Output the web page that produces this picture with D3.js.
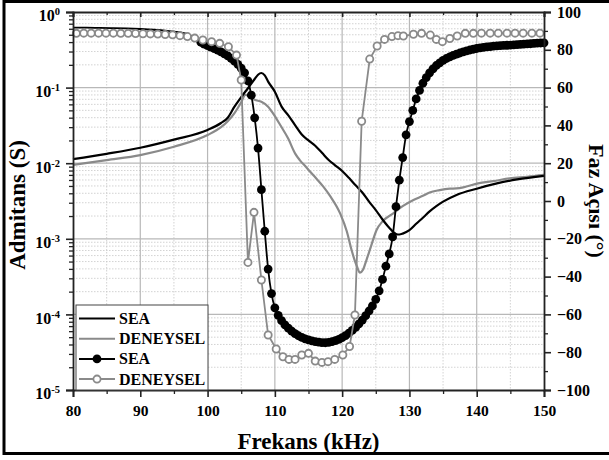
<!DOCTYPE html>
<html>
<head>
<meta charset="utf-8">
<title>Admitans - Faz</title>
<script src="https://cdn.jsdelivr.net/npm/d3@7"></script>
<style>
  body { margin: 0; background: #fff; }
  svg text { font-family: "Liberation Serif", "Times New Roman", serif; font-weight: bold; fill: #000; }
</style>
</head>
<body>
<svg id="chart" width="609" height="460"></svg>
<script>
// admittance, SEA model (S)
var seaAdmF = [80, 85, 90, 95, 100, 102, 103, 104, 105, 106, 107, 107.5, 108, 108.5, 109, 110, 111, 112, 113, 114, 115, 116, 117, 118, 119, 120, 121, 122, 123, 124, 125, 126, 127, 128, 128.5, 129, 130, 131, 132, 133, 134, 135, 137, 140, 143, 146, 150];
var seaAdm = [0.0113, 0.0133, 0.016, 0.0205, 0.0275, 0.034, 0.04, 0.056, 0.075, 0.098, 0.13, 0.148, 0.156, 0.145, 0.12, 0.088, 0.056, 0.043, 0.032, 0.024, 0.02, 0.017, 0.0137, 0.011, 0.0093, 0.0079, 0.0064, 0.0051, 0.0041, 0.0031, 0.0024, 0.0018, 0.0014, 0.00116, 0.00114, 0.00117, 0.0013, 0.00158, 0.0019, 0.0023, 0.0027, 0.0031, 0.0038, 0.0046, 0.0054, 0.0061, 0.0068];

// admittance, measured (S)
var denAdmF = [80, 85, 90, 95, 100, 102, 103, 104, 105, 105.6, 106.2, 107, 108, 109, 110, 110.8, 112, 113, 113.7, 114.7, 116, 117.2, 118.2, 119.7, 120.7, 121.4, 122.2, 122.65, 123.1, 123.6, 124.3, 125.1, 126, 127.6, 129, 130.6, 132, 133, 134.5, 136, 137, 138, 140.2, 142.5, 144.9, 147.5, 150];
var denAdm = [0.0095, 0.011, 0.0128, 0.0165, 0.0236, 0.03, 0.036, 0.046, 0.064, 0.08, 0.077, 0.069, 0.065, 0.056, 0.042, 0.032, 0.021, 0.0135, 0.011, 0.0088, 0.0065, 0.0049, 0.0037, 0.00217, 0.00125, 0.00071, 0.00043, 0.000356, 0.00039, 0.00052, 0.0008, 0.0013, 0.0017, 0.00217, 0.0027, 0.00326, 0.0037, 0.0041, 0.0044, 0.0046, 0.00465, 0.0048, 0.0054, 0.0058, 0.0063, 0.0066, 0.007];

// phase, SEA model, low-frequency part (line only)
var seaPhaseLowF = [80, 82, 84, 86, 88, 90, 92, 94, 95, 96, 97, 98, 99];
var seaPhaseLow = [91.7, 91.7, 91.6, 91.5, 91.3, 91.0, 90.6, 90.0, 89.6, 89.2, 88.4, 86.5, 84.0];

// phase, SEA model (degrees), with markers
var seaPhaseF = [99, 99.5, 100, 100.5, 101, 101.5, 102, 102.5, 103, 103.5, 104, 104.5, 105, 105.5, 106, 106.5, 107, 107.5, 108, 108.5, 109, 109.5, 110, 110.5, 111, 111.5, 112, 112.5, 113, 113.5, 114, 114.5, 115, 115.5, 116, 116.5, 117, 117.5, 118, 118.5, 119, 119.5, 120, 120.5, 121, 121.5, 122, 122.5, 123, 123.5, 124, 124.5, 125, 125.5, 126, 126.5, 127, 127.5, 128, 128.5, 129, 129.5, 130, 130.5, 131, 131.5, 132, 132.5, 133, 133.5, 134, 134.5, 135, 135.5, 136, 136.5, 137, 137.5, 138, 138.5, 139, 139.5, 140, 140.5, 141, 141.5, 142, 142.5, 143, 143.5, 144, 144.5, 145, 145.5, 146, 146.5, 147, 147.5, 148, 148.5, 149, 149.5, 150];
var seaPhase = [84.0, 83.0, 82.2, 81.4, 80.6, 79.8, 78.9, 77.9, 76.8, 75.5, 74.0, 72.3, 70.3, 67.8, 63.5, 56, 44, 28, 6, -16, -36, -49, -56.5, -60.5, -63.3, -65.5, -67.3, -68.9, -70.2, -71.3, -72.2, -72.9, -73.5, -74, -74.4, -74.7, -74.9, -75, -74.8, -74.4, -73.9, -73.2, -72.3, -71.2, -69.9, -68.5, -66.9, -65, -63, -60.7, -58.2, -55.5, -52, -47.5, -41.5, -34.5, -28, -19, -3, 11, 23, 35, 42, 48, 54, 58.5, 62.3, 65.3, 67.8, 69.9, 71.7, 73.1, 74.4, 75.4, 76.3, 77, 77.7, 78.3, 78.9, 79.4, 79.9, 80.3, 80.7, 81, 81.3, 81.5, 81.7, 81.9, 82.1, 82.2, 82.3, 82.4, 82.5, 82.6, 82.7, 82.9, 83, 83.1, 83.2, 83.4, 83.5, 83.6, 83.7];

// phase, measured (degrees)
var denPhaseF = [80.5, 81.6, 82.7, 83.8, 84.9, 86.0, 87.1, 88.2, 89.3, 90.4, 91.5, 92.6, 93.7, 94.8, 95.9, 97.0, 98.1, 99.3, 100.6, 101.8, 103.1, 104.3, 105.0, 106.0, 106.9, 108.0, 109.0, 110.2, 111.2, 112.1, 113.0, 114.0, 115.0, 116.0, 117.0, 117.9, 118.9, 120.1, 121.1, 121.9, 122.9, 124.1, 125.2, 126.3, 127.4, 128.3, 129.1, 130.6, 131.8, 133.1, 134.0, 134.9, 136.0, 137.1, 138.3, 139.5, 140.7, 142.0, 143.2, 144.5, 145.7, 146.9, 148.2, 149.4];
var denPhase = [88.7, 88.8, 88.8, 88.8, 88.8, 88.8, 88.7, 88.7, 88.6, 88.5, 88.4, 88.3, 88.1, 87.9, 87.5, 87.0, 86.2, 85.2, 84.3, 83.4, 81.6, 77.2, 64, -32.5, -6, -41.8, -70.9, -78.3, -82.4, -83.8, -83.8, -81.5, -80.6, -84.7, -85.4, -85, -83.8, -81.5, -77, -60.3, 42.2, 75.1, 82, 85.5, 87, 87.5, 87.3, 88.2, 88.7, 87.8, 85.5, 84.3, 86, 87.3, 88.7, 88.7, 88.8, 88.8, 88.8, 88.8, 88.8, 88.8, 88.8, 88.8];

var xTicks = [80, 90, 100, 110, 120, 130, 140, 150];
var yLeftExp = [-5, -4, -3, -2, -1, 0];
var yRightTicks = [-100, -80, -60, -40, -20, 0, 20, 40, 60, 80, 100];
var legendNames = ['SEA', 'DENEYSEL', 'SEA', 'DENEYSEL'];

var svg = d3.select('#chart');
var margin = { top: 12, right: 65, bottom: 70, left: 73 },
    W = 609 - margin.left - margin.right,
    H = 460 - margin.top - margin.bottom;

var grey = '#8a8a8a';

// outer frame (right side runs off the picture)
svg.append('rect')
   .attr('x', 4).attr('y', 1.5).attr('width', 620).attr('height', 452)
   .attr('fill', 'none').attr('stroke', '#000').attr('stroke-width', 3);

var g = svg.append('g').attr('transform', 'translate(' + margin.left + ',' + margin.top + ')');

var x = d3.scaleLinear().domain([80, 150]).range([0, W]);
var yL = d3.scaleLog().domain([1e-5, 1]).range([H, 0]);
var yR = d3.scaleLinear().domain([-100, 100]).range([H, 0]);

// minor values
var logMinor = [];
yLeftExp.slice(0, -1).forEach(function(e) {
  for (var k = 2; k <= 9; k++) logMinor.push(k * Math.pow(10, e));
});
var xMinor = xTicks.slice(0, -1).map(function(t) { return t + 5; });
var yRMinor = yRightTicks.slice(0, -1).map(function(t) { return t + 10; });
var decades = yLeftExp.map(function(e) { return Math.pow(10, e); });

// grid
var grid = g.append('g');
grid.selectAll('.hmin').data(logMinor).enter().append('line')
    .attr('x1', 0).attr('x2', W)
    .attr('y1', function(d) { return yL(d); }).attr('y2', function(d) { return yL(d); })
    .attr('stroke', '#c8c8c8').attr('stroke-width', 0.8).attr('stroke-dasharray', '1.5,1.5');
grid.selectAll('.vmin').data(xMinor).enter().append('line')
    .attr('y1', 0).attr('y2', H)
    .attr('x1', function(d) { return x(d); }).attr('x2', function(d) { return x(d); })
    .attr('stroke', '#c8c8c8').attr('stroke-width', 0.8).attr('stroke-dasharray', '1.5,1.5');
grid.selectAll('.hmaj').data(decades.slice(1, -1)).enter().append('line')
    .attr('x1', 0).attr('x2', W)
    .attr('y1', function(d) { return yL(d); }).attr('y2', function(d) { return yL(d); })
    .attr('stroke', '#b8b8b8').attr('stroke-width', 1.2);
grid.selectAll('.vmaj').data(xTicks.slice(1, -1)).enter().append('line')
    .attr('y1', 0).attr('y2', H)
    .attr('x1', function(d) { return x(d); }).attr('x2', function(d) { return x(d); })
    .attr('stroke', '#b8b8b8').attr('stroke-width', 1.2);

function zip(fs, vs) { return fs.map(function(f, i) { return [f, vs[i]]; }); }

var lineL = d3.line().x(function(d) { return x(d[0]); }).y(function(d) { return yL(d[1]); }).curve(d3.curveMonotoneX);
var lineR = d3.line().x(function(d) { return x(d[0]); }).y(function(d) { return yR(d[1]); });
var lineRs = d3.line().x(function(d) { return x(d[0]); }).y(function(d) { return yR(d[1]); }).curve(d3.curveMonotoneX);

// admittance curves
g.append('path').datum(zip(denAdmF, denAdm)).attr('d', lineL)
 .attr('fill', 'none').attr('stroke', grey).attr('stroke-width', 2.2);
g.append('path').datum(zip(seaAdmF, seaAdm)).attr('d', lineL)
 .attr('fill', 'none').attr('stroke', '#000').attr('stroke-width', 2.2);

// SEA phase
g.append('path').datum(zip(seaPhaseLowF, seaPhaseLow).concat(zip(seaPhaseF, seaPhase).slice(1))).attr('d', lineRs)
 .attr('fill', 'none').attr('stroke', '#000').attr('stroke-width', 1.8);
g.selectAll('.seadot').data(zip(seaPhaseF, seaPhase)).enter().append('circle')
 .attr('cx', function(d) { return x(d[0]); }).attr('cy', function(d) { return yR(d[1]); })
 .attr('r', 4.4).attr('fill', '#000');

// measured phase
g.append('path').datum(zip(denPhaseF, denPhase)).attr('d', lineR)
 .attr('fill', 'none').attr('stroke', grey).attr('stroke-width', 1.8);
g.selectAll('.dendot').data(zip(denPhaseF, denPhase)).enter().append('circle')
 .attr('cx', function(d) { return x(d[0]); }).attr('cy', function(d) { return yR(d[1]); })
 .attr('r', 3.6).attr('fill', '#fff').attr('stroke', grey).attr('stroke-width', 1.8);

// axes
var axStroke = '#222';
function styleAxis(sel, fs) {
  sel.select('.domain').attr('stroke', axStroke).attr('stroke-width', 1.8);
  sel.selectAll('.tick line').attr('stroke', axStroke).attr('stroke-width', 1.6);
  sel.selectAll('text').attr('font-size', fs || 15.5);
}
function minorTicks(s) {
  s.select('.domain').remove();
  s.selectAll('line').attr('stroke', axStroke).attr('stroke-width', 1.3);
}

var xAxis = g.append('g').attr('transform', 'translate(0,' + H + ')')
  .call(d3.axisBottom(x).tickValues(xTicks).tickSize(7).tickPadding(8).tickFormat(d3.format('d')));
styleAxis(xAxis);
g.append('g').attr('transform', 'translate(0,' + H + ')')
  .call(d3.axisBottom(x).tickValues(xMinor).tickSize(4).tickFormat('')).call(minorTicks);

var xTop = g.append('g').call(d3.axisBottom(x).tickValues(xTicks).tickSize(5).tickFormat(''));
styleAxis(xTop);
g.append('g').call(d3.axisBottom(x).tickValues(xMinor).tickSize(3).tickFormat('')).call(minorTicks);

var yAxisL = g.append('g')
  .call(d3.axisLeft(yL).tickValues(decades).tickSize(7).tickPadding(6).tickFormat(function() { return ''; }));
styleAxis(yAxisL, 16);
yAxisL.selectAll('.tick text').each(function(d) {
  var t = d3.select(this);
  t.text('10');
  t.append('tspan').attr('dy', -6).attr('font-size', 10.5).text(Math.round(Math.log10(d)));
}).attr('dy', '0.55em');
g.append('g').call(d3.axisLeft(yL).tickValues(logMinor).tickSize(4).tickFormat('')).call(minorTicks);

var yAxisR = g.append('g').attr('transform', 'translate(' + W + ',0)')
  .call(d3.axisRight(yR).tickValues(yRightTicks).tickSize(7).tickPadding(6));
styleAxis(yAxisR, 16);
g.append('g').attr('transform', 'translate(' + W + ',0)')
  .call(d3.axisRight(yR).tickValues(yRMinor).tickSize(4).tickFormat('')).call(minorTicks);

// axis titles
svg.append('text').attr('x', margin.left + W / 2).attr('y', 449)
   .attr('text-anchor', 'middle').attr('font-size', 23).text('Frekans (kHz)');
svg.append('text').attr('transform', 'translate(25,' + (margin.top + H / 2 + 4) + ') rotate(-90)')
   .attr('text-anchor', 'middle').attr('font-size', 23).text('Admitans (S)');
svg.append('text').attr('transform', 'translate(589,' + (margin.top + H / 2) + ') rotate(90)')
   .attr('text-anchor', 'middle').attr('font-size', 22).text('Faz Açısı (°)');

// legend
var lg = g.append('g').attr('transform', 'translate(3,' + (H - 85) + ')');
lg.append('rect').attr('width', 132).attr('height', 85)
  .attr('fill', '#fff').attr('stroke', '#444').attr('stroke-width', 1);
var rows = lg.selectAll('.row').data(legendNames).enter().append('g')
  .attr('transform', function(d, i) { return 'translate(0,' + (13.5 + i * 20.2) + ')'; });
rows.append('line').attr('x1', 3).attr('x2', 39).attr('y1', 0).attr('y2', 0)
  .attr('stroke', function(d, i) { return i % 2 ? grey : '#000'; }).attr('stroke-width', 2);
rows.filter(function(d, i) { return i === 2; }).append('circle')
  .attr('cx', 21).attr('cy', 0).attr('r', 4.4).attr('fill', '#000');
rows.filter(function(d, i) { return i === 3; }).append('circle')
  .attr('cx', 21).attr('cy', 0).attr('r', 3.6).attr('fill', '#fff').attr('stroke', grey).attr('stroke-width', 1.8);
rows.append('text').attr('x', 43).attr('y', 5.5).attr('font-size', 16).text(function(d) { return d; });
</script>
</body>
</html>
